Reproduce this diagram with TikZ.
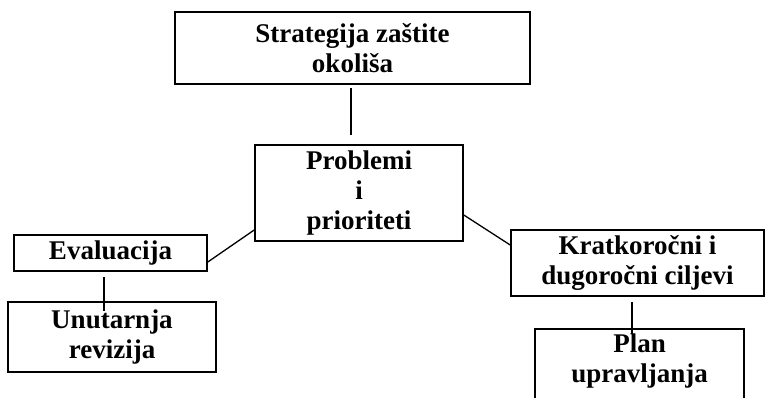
\documentclass[tikz,border=0pt]{standalone}
\usepackage{fontspec}
\setmainfont{Liberation Serif}
\begin{document}
\begin{tikzpicture}[x=1pt,y=1pt,
  box/.style={draw, line width=1.6pt, inner sep=0pt, align=center,
    font=\fontsize{27}{30}\selectfont\bfseries},
  txt/.style={inner sep=0pt, align=center, font=\fontsize{27}{30}\selectfont\bfseries},
  conn/.style={line width=1.3pt}]
\useasboundingbox (0,0) rectangle (765,397);
\node[box, minimum width=355, minimum height=72] (top) at (352.5,349) {Strategija zaštite\\okoliša};
\node[box, minimum width=208, minimum height=96] (prob) at (359,204) {Problemi\\i\\prioriteti};
\node[box, minimum width=193, minimum height=36] (eval) at (110.5,144) {Evaluacija};
\node[box, minimum width=208, minimum height=70] (unut) at (112,60) {Unutarnja\\revizija};
\node[box, minimum width=253, minimum height=66] (krat) at (637.5,134) {Kratkoročni i\\dugoročni ciljevi};
\node[draw, line width=1.6pt, inner sep=0pt, minimum width=209, minimum height=100, anchor=north] (plan) at (639.5,69) {};
\node[txt] (plantext) at (639.5,36) {Plan\\upravljanja};
\draw[conn] ([xshift=-1.5pt,yshift=-3pt]top.south) -- ([xshift=-1.5pt,yshift=9pt]top.south |- prob.north);
\draw[conn] ([yshift=-37pt]prob.west) -- ([yshift=-9pt]eval.east);
\draw[conn] ([yshift=-22pt]prob.east) -- ([yshift=18pt]krat.west);
\draw[conn] ([xshift=-6.5pt,yshift=-5pt]eval.south) -- ([xshift=-6.5pt,yshift=-39pt]eval.south);
\draw[conn] ([xshift=-5.5pt,yshift=-5pt]krat.south) -- ([xshift=-5.5pt,yshift=-37pt]krat.south);
\end{tikzpicture}
\end{document}
